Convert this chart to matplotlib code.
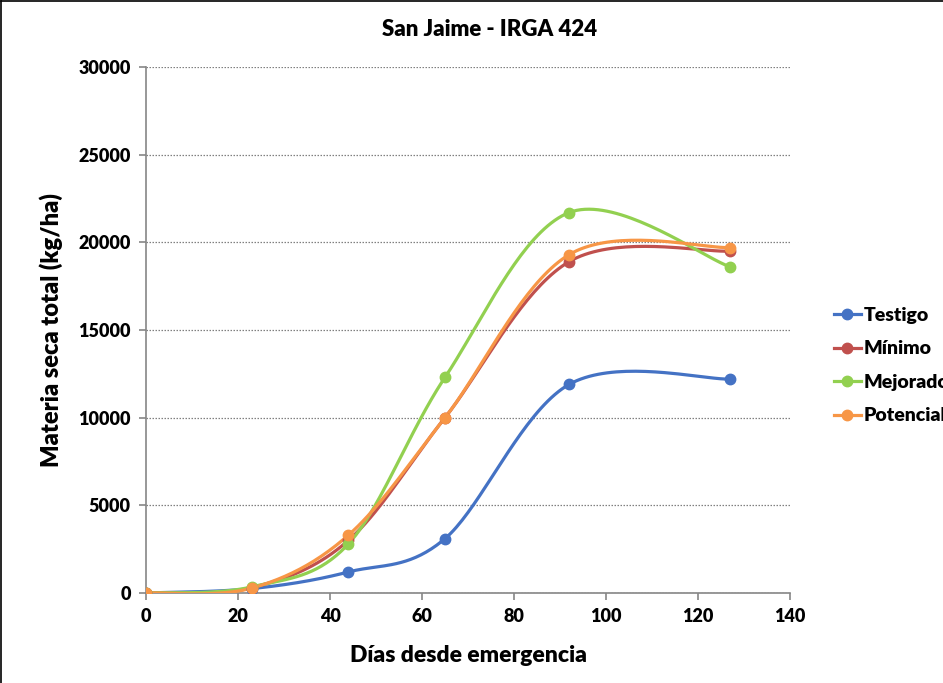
import numpy as np
import matplotlib.pyplot as plt
from matplotlib.lines import Line2D

# Días desde emergencia y materia seca total (kg/ha) por tratamiento
dias = [0, 23, 44, 65, 92, 127]
testigo = [0, 250, 1200, 3100, 11900, 12200]
minimo = [0, 300, 3000, 10000, 18900, 19500]
mejorado = [0, 350, 2800, 12300, 21700, 18600]
potencial = [0, 280, 3300, 10000, 19300, 19700]

series = [
    ("Testigo", testigo, "#4472C4"),
    ("Mínimo", minimo, "#C0504D"),
    ("Mejorado", mejorado, "#92D050"),
    ("Potencial", potencial, "#F79646"),
]

plt.rcParams['font.family'] = ['Lato', 'DejaVu Sans']
plt.rcParams['font.weight'] = 'heavy'
PESO = 'heavy'


def suavizar(x, y, n=40):
    # curva suavizada tipo Excel (Bezier con puntos de control Catmull-Rom)
    x = np.asarray(x, float)
    y = np.asarray(y, float)
    px = np.concatenate([[x[0]], x, [x[-1]]])
    py = np.concatenate([[y[0]], y, [y[-1]]])
    t = np.linspace(0, 1, n)
    xs, ys = [], []
    for i in range(1, len(px) - 2):
        p0 = np.array([px[i], py[i]])
        p3 = np.array([px[i + 1], py[i + 1]])
        c1 = p0 + (np.array([px[i + 1], py[i + 1]]) - np.array([px[i - 1], py[i - 1]])) / 6
        c2 = p3 - (np.array([px[i + 2], py[i + 2]]) - np.array([px[i], py[i]])) / 6
        b = ((1 - t) ** 3)[:, None] * p0 + (3 * (1 - t) ** 2 * t)[:, None] * c1 \
            + (3 * (1 - t) * t ** 2)[:, None] * c2 + (t ** 3)[:, None] * p3
        xs.extend(b[:, 0])
        ys.extend(b[:, 1])
    return xs, ys


fig = plt.figure(figsize=(9.43, 6.83), dpi=100)
ax = fig.add_axes([146 / 943, 1 - 593 / 683, (790 - 146) / 943, (593 - 67) / 683])

for nombre, valores, color in series:
    sx, sy = suavizar(dias, valores)
    ax.plot(sx, sy, color=color, lw=2.3, solid_capstyle='round', zorder=3)
    ax.plot(dias, valores, 'o', color=color, ms=7.5, zorder=4)

ax.set_xlim(0, 140)
ax.set_ylim(0, 30000)
ax.set_xticks(range(0, 141, 20))
ax.set_yticks(range(0, 30001, 5000))
ax.yaxis.grid(True, color='#808080', linestyle=(0, (1.2, 1.2)), lw=0.9)
ax.set_axisbelow(True)
for lado in ('top', 'right'):
    ax.spines[lado].set_visible(False)
for lado in ('left', 'bottom'):
    ax.spines[lado].set_color('#868686')
    ax.spines[lado].set_linewidth(1.2)
ax.tick_params(axis='both', direction='out', length=5, color='#868686', width=1.2,
               labelsize=13, pad=6)
for lbl in ax.get_xticklabels() + ax.get_yticklabels():
    lbl.set_fontweight(PESO)

ax.set_xlabel('Días desde emergencia', fontsize=16.5, fontweight=PESO, labelpad=14)
ax.set_ylabel('Materia seca total (kg/ha)', fontsize=17, fontweight=PESO, labelpad=11)
fig.text(490 / 943, 1 - 30 / 683, 'San Jaime - IRGA 424', ha='center', va='center',
         fontsize=16, fontweight=PESO)

handles = [Line2D([0], [0], color=c, lw=2.3, marker='o', ms=7.5) for _, _, c in series]
fig.legend(handles, [n for n, _, _ in series], loc='upper left',
           bbox_to_anchor=(826 / 943, 1 - 299 / 683), frameon=False,
           prop={'size': 14, 'weight': PESO}, handlelength=1.4,
           handletextpad=0.15, labelspacing=0.85, borderaxespad=0)

# borde del área del gráfico
fig.add_artist(Line2D([1 / 943, 1 / 943], [0, 1 - 1 / 683], color='black', lw=1.2,
                      transform=fig.transFigure))
fig.add_artist(Line2D([1 / 943, 1], [1 - 1 / 683, 1 - 1 / 683], color='black', lw=1.2,
                      transform=fig.transFigure))

fig.savefig('out.png', dpi=100)
